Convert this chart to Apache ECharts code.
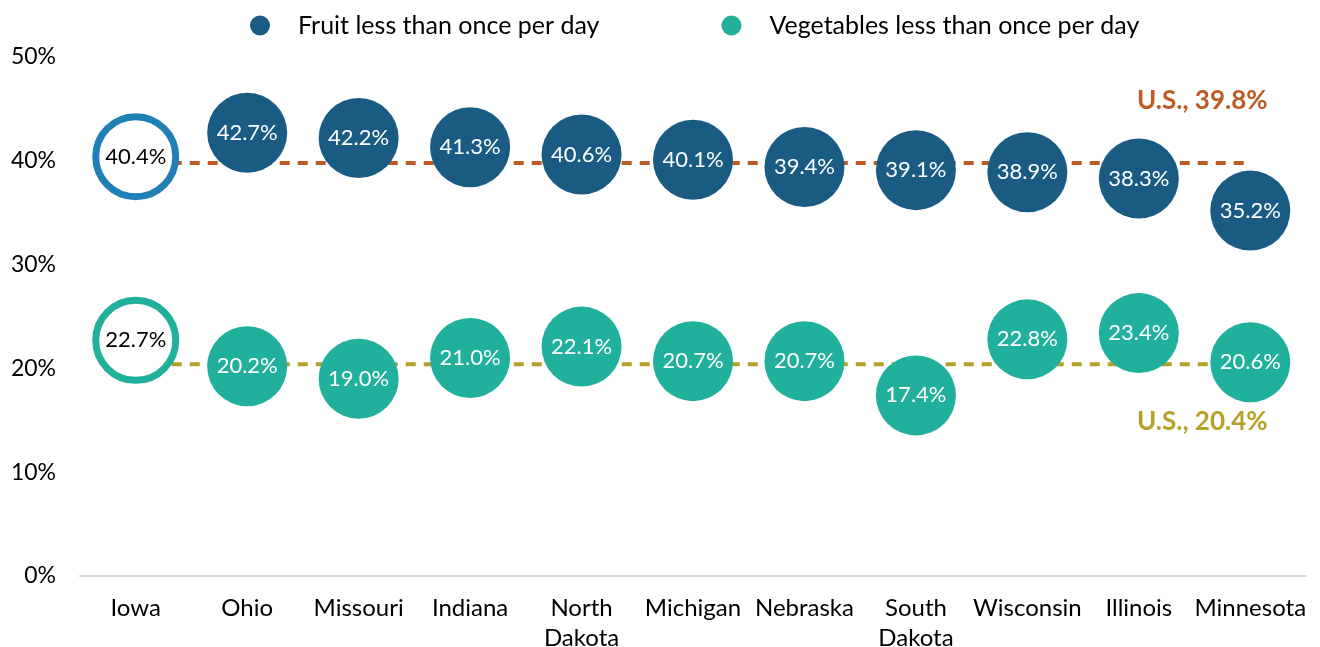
<!DOCTYPE html>
<html>
<head>
<meta charset="utf-8">
<script src="https://cdn.jsdelivr.net/npm/echarts@6/dist/echarts.min.js"></script>
<style>
  html, body { margin: 0; padding: 0; background: #fff; }
  #chart { width: 1320px; height: 647px; }
</style>
</head>
<body>
<div id="chart"></div>
<script>
// 数据
var states = ['Iowa', 'Ohio', 'Missouri', 'Indiana', 'North\nDakota', 'Michigan', 'Nebraska', 'South\nDakota', 'Wisconsin', 'Illinois', 'Minnesota'];
var fruit = [40.4, 42.7, 42.2, 41.3, 40.6, 40.1, 39.4, 39.1, 38.9, 38.3, 35.2];
var vegetables = [22.7, 20.2, 19.0, 21.0, 22.1, 20.7, 20.7, 17.4, 22.8, 23.4, 20.6];
var usFruit = 39.8;
var usVeg = 20.4;
var yTicks = [0, 10, 20, 30, 40, 50];

var FONT = 'Lato';

// Iowa 用空心圆表示
function points(values, fill, ring) {
    return values.map(function (v, i) {
        if (i === 0) {
            return {
                value: v,
                itemStyle: { color: '#fff', borderColor: ring, borderWidth: 7 },
                label: { color: '#000' }
            };
        }
        return { value: v, itemStyle: { color: fill } };
    });
}

function usLine(v) {
    return states.map(function () { return v; });
}

function usLabel(v, color, dy) {
    return {
        show: true,
        formatter: 'U.S., ' + v + '%',
        color: color,
        fontFamily: FONT,
        fontSize: 26,
        fontWeight: 'bold',
        align: 'center',
        verticalAlign: 'middle',
        offset: [-48, dy],
        distance: 0
    };
}

var dom = document.getElementById('chart');
var myChart = echarts.init(dom);
var option = {
    animation: false,
    textStyle: { fontFamily: FONT },
    legend: {
        top: 8,
        left: 245,
        itemGap: 122,
        itemWidth: 20,
        itemHeight: 20,
        icon: 'circle',
        textStyle: { fontFamily: FONT, fontSize: 25, color: '#000', padding: [0, 0, 0, 23] },
        data: ['Fruit less than once per day', 'Vegetables less than once per day']
    },
    grid: { left: 80, right: 14, top: 57, bottom: 71, outerBoundsMode: 'none' },
    xAxis: {
        type: 'category',
        data: states,
        axisLine: { lineStyle: { color: '#d9d9d9', width: 2 } },
        axisTick: { show: false },
        axisLabel: { fontFamily: FONT, fontSize: 24, color: '#000', margin: 17, lineHeight: 30, interval: 0 }
    },
    yAxis: {
        type: 'value',
        min: yTicks[0],
        max: yTicks[yTicks.length - 1],
        interval: 10,
        splitLine: { show: false },
        axisLabel: { fontFamily: FONT, fontSize: 23, color: '#000', margin: 24, formatter: '{value}%' }
    },
    series: [
        {
            name: 'US fruit',
            type: 'line',
            data: usLine(usFruit),
            symbol: 'none',
            z: 1,
            lineStyle: { color: '#be5b25', width: 4, type: [10, 8] },
            endLabel: usLabel(usFruit, '#be5b25', -62)
        },
        {
            name: 'US vegetables',
            type: 'line',
            data: usLine(usVeg),
            symbol: 'none',
            z: 1,
            lineStyle: { color: '#b5a02a', width: 4, type: [10, 8] },
            endLabel: usLabel(usVeg, '#b5a02a', 57)
        },
        {
            name: 'Fruit less than once per day',
            type: 'scatter',
            data: points(fruit, '#1a5b84', '#2080b6'),
            symbolSize: 80,
            z: 3,
            itemStyle: { color: '#1a5b84', opacity: 1 },
            label: {
                show: true,
                position: 'inside',
                color: '#fff',
                fontFamily: FONT,
                fontSize: 22,
                formatter: function (p) { return p.value.toFixed(1) + '%'; }
            }
        },
        {
            name: 'Vegetables less than once per day',
            type: 'scatter',
            data: points(vegetables, '#20b09c', '#20b09c'),
            symbolSize: 80,
            z: 3,
            itemStyle: { color: '#20b09c', opacity: 1 },
            label: {
                show: true,
                position: 'inside',
                color: '#fff',
                fontFamily: FONT,
                fontSize: 22,
                formatter: function (p) { return p.value.toFixed(1) + '%'; }
            }
        }
    ]
};
if (option && typeof option === "object") {
    myChart.setOption(option, true);
}
</script>
</body>
</html>
